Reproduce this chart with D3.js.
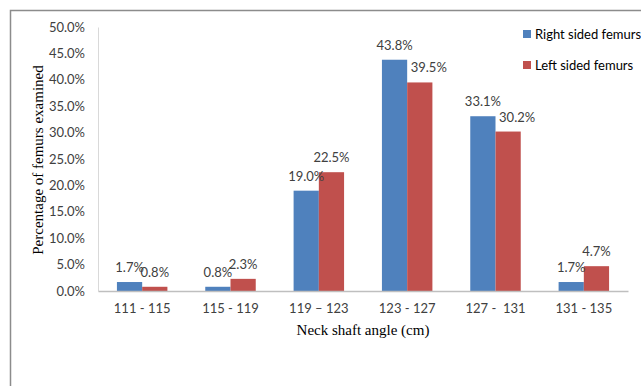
<!DOCTYPE html>
<html>
<head>
<meta charset="utf-8">
<script src="https://cdn.jsdelivr.net/npm/d3@7"></script>
<style>
  body { margin: 0; background: #fff; }
  .tick text { font-family: Lato, "Open Sans", sans-serif; font-size: 13px; fill: #404040; white-space: pre; }
  .label { font-family: Lato, "Open Sans", sans-serif; font-size: 13px; fill: #404040; }
  .title { font-family: "Liberation Serif", "Times New Roman", serif; font-size: 15px; fill: #000; }
</style>
</head>
<body>
<div id="chart"></div>
<script>
  const categories = ["111 - 115", "115 - 119", "119 \u2013 123", "123 - 127", "127 -  131", "131 - 135"];
  const seriesNames = ["Right sided femurs", "Left sided femurs"];
  const rightValues = [1.7, 0.8, 19.0, 43.8, 33.1, 1.7];
  const leftValues = [0.8, 2.3, 22.5, 39.5, 30.2, 4.7];
  const yTicks = [0, 5, 10, 15, 20, 25, 30, 35, 40, 45, 50];
  const colors = ["#4F81BD", "#C0504D"];

  const W = 641, H = 386;
  const margin = {top: 27, right: 13, bottom: 95, left: 98};
  const width = W - margin.left - margin.right;
  const height = H - margin.top - margin.bottom;

  const svg = d3.select("#chart").append("svg")
      .attr("width", W)
      .attr("height", H);

  // outer frame (left and top edges only visible)
  svg.append("path")
      .attr("d", "M10.5,386 V10.5 H641")
      .attr("fill", "none")
      .attr("stroke", "#8c8c8c")
      .attr("stroke-width", 1.5);

  const g = svg.append("g")
      .attr("transform", "translate(" + margin.left + "," + margin.top + ")");

  const x0 = d3.scaleBand().domain(categories).range([0, width]).paddingInner(0.4286).paddingOuter(0.2143);
  const x1 = d3.scaleBand().domain(seriesNames).range([0, x0.bandwidth()]);
  const y = d3.scaleLinear().domain([0, 50]).range([height, 0]);

  const data = categories.map((c, i) => ({cat: c, i: i, vals: [rightValues[i], leftValues[i]]}));

  // y axis
  const yAxis = g.append("g")
      .call(d3.axisLeft(y).tickValues(yTicks).tickFormat(d => d.toFixed(1) + "%").tickSize(0).tickPadding(13));
  yAxis.select(".domain").attr("stroke", "#d9d9d9");

  // bars
  const groups = g.selectAll(".grp")
      .data(data)
    .enter().append("g")
      .attr("transform", d => "translate(" + x0(d.cat) + ",0)");

  groups.selectAll("rect")
      .data(d => d.vals.map((v, k) => ({name: seriesNames[k], v: v, k: k, i: d.i})))
    .enter().append("rect")
      .attr("x", d => x1(d.name))
      .attr("y", d => y(d.v))
      .attr("width", x1.bandwidth())
      .attr("height", d => height - y(d.v))
      .attr("fill", d => colors[d.k]);

  // a couple of labels were nudged right in the original to avoid overlap
  const nudged = {"3-1": 9, "4-1": 9};

  groups.selectAll("text")
      .data(d => d.vals.map((v, k) => ({name: seriesNames[k], v: v, k: k, i: d.i})))
    .enter().append("text")
      .attr("class", "label")
      .attr("x", d => x1(d.name) + x1.bandwidth() / 2 + (nudged[d.i + "-" + d.k] || 0))
      .attr("y", d => y(d.v) - 10)
      .attr("text-anchor", "middle")
      .text(d => d.v.toFixed(1) + "%");

  // x axis
  const xAxis = g.append("g")
      .attr("transform", "translate(0," + height + ")")
      .call(d3.axisBottom(x0).tickSize(0).tickPadding(13));
  xAxis.select(".domain").attr("stroke", "#bfbfbf").attr("stroke-width", 1.5);

  // axis titles
  svg.append("text")
      .attr("class", "title")
      .attr("transform", "translate(43,160) rotate(-90)")
      .attr("text-anchor", "middle")
      .text("Percentage of femurs examined");

  svg.append("text")
      .attr("class", "title")
      .attr("x", 363)
      .attr("y", 335)
      .attr("text-anchor", "middle")
      .text("Neck shaft angle (cm)");

  // legend
  const legend = svg.append("g").attr("transform", "translate(523,30)");
  seriesNames.forEach((s, i) => {
    const row = legend.append("g").attr("transform", "translate(0," + (i * 31) + ")");
    row.append("rect")
        .attr("width", 8)
        .attr("height", 8)
        .attr("fill", colors[i]);
    row.append("text")
        .attr("class", "label")
        .attr("x", 12)
        .attr("y", 8.5)
        .style("fill", "#000")
        .text(s);
  });
</script>
</body>
</html>
